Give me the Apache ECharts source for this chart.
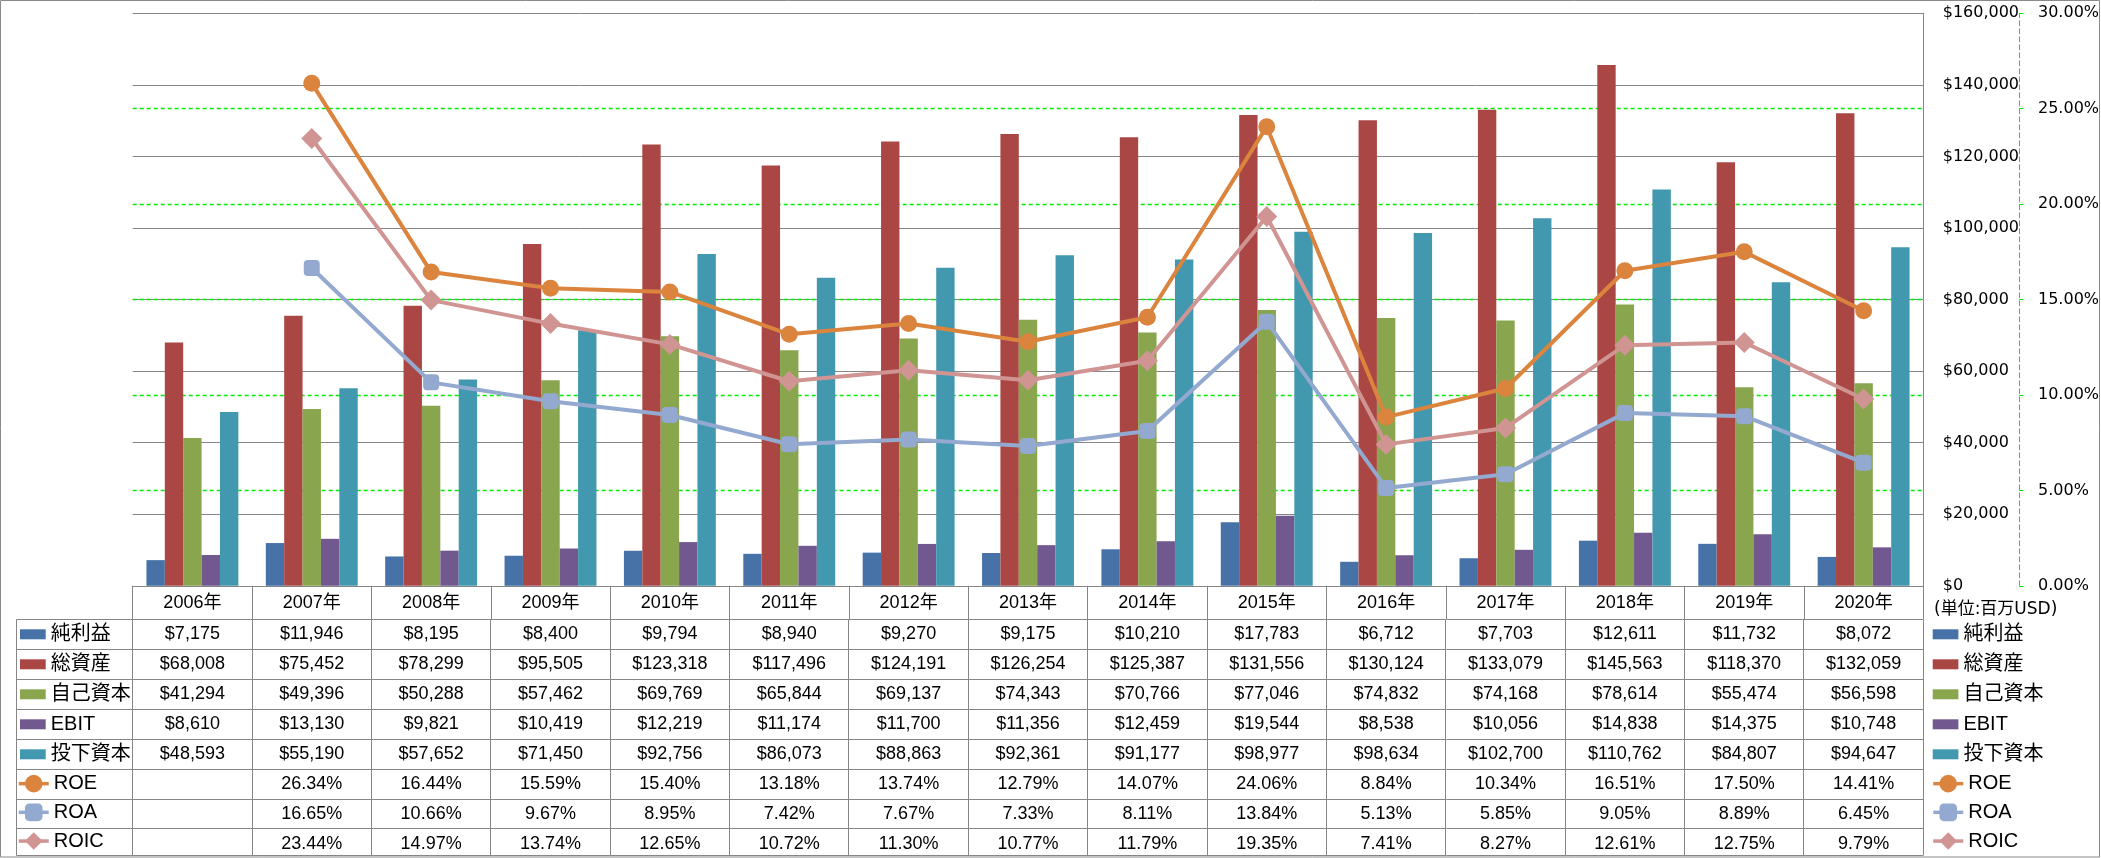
<!DOCTYPE html>
<html><head><meta charset="utf-8">
<script src="https://cdn.jsdelivr.net/npm/echarts@6/dist/echarts.min.js"></script>
<style>html,body{margin:0;padding:0;background:#fff;}#c{width:2101px;height:858px;}</style>
</head><body><div id="c"></div>
<script>
// ---- data ----
const years = ['2006年','2007年','2008年','2009年','2010年','2011年','2012年','2013年','2014年','2015年','2016年','2017年','2018年','2019年','2020年'];
const netIncome = [7175, 11946, 8195, 8400, 9794, 8940, 9270, 9175, 10210, 17783, 6712, 7703, 12611, 11732, 8072];
const totalAssets = [68008, 75452, 78299, 95505, 123318, 117496, 124191, 126254, 125387, 131556, 130124, 133079, 145563, 118370, 132059];
const equity = [41294, 49396, 50288, 57462, 69769, 65844, 69137, 74343, 70766, 77046, 74832, 74168, 78614, 55474, 56598];
const ebit = [8610, 13130, 9821, 10419, 12219, 11174, 11700, 11356, 12459, 19544, 8538, 10056, 14838, 14375, 10748];
const investedCapital = [48593, 55190, 57652, 71450, 92756, 86073, 88863, 92361, 91177, 98977, 98634, 102700, 110762, 84807, 94647];
const roe = [null, 26.34, 16.44, 15.59, 15.40, 13.18, 13.74, 12.79, 14.07, 24.06, 8.84, 10.34, 16.51, 17.50, 14.41];
const roa = [null, 16.65, 10.66, 9.67, 8.95, 7.42, 7.67, 7.33, 8.11, 13.84, 5.13, 5.85, 9.05, 8.89, 6.45];
const roic = [null, 23.44, 14.97, 13.74, 12.65, 10.72, 11.30, 10.77, 11.79, 19.35, 7.41, 8.27, 12.61, 12.75, 9.79];
const barNames = ['純利益','総資産','自己資本','EBIT','投下資本'];
const lineNames = ['ROE','ROA','ROIC'];
const leftTicks = [0, 20000, 40000, 60000, 80000, 100000, 120000, 140000, 160000];
const rightTicks = [0, 5, 10, 15, 20, 25, 30];
const unitText = '(単位:百万USD)';

// ---- styles ----
const barData = [netIncome, totalAssets, equity, ebit, investedCapital];
const lineData = [roe, roa, roic];
const barColors = ['#4672A8', '#AA4744', '#89A54E', '#71588F', '#4298AF'];
const lineColors = ['#DB843D', '#93A9CF', '#D09493'];
const lineSymbols = ['circle', 'roundRect', 'diamond'];
const lineSymbolSizes = [17, 16, 21];
const GRAY = '#868686';
const GREEN = '#00ee00';
const numFont = "'Liberation Sans', 'Noto Sans CJK JP', sans-serif";
const lblFont = "'Liberation Sans Narrow', 'Liberation Sans', 'Noto Sans CJK JP', sans-serif";
const axFont = "'DejaVu Sans', 'Noto Sans CJK JP', sans-serif";

const chart = echarts.init(document.getElementById('c'), null, {renderer: 'canvas'});

const series = [];
barNames.forEach((n, i) => series.push({
  name: n, type: 'bar', data: barData[i], barGap: '0%', barCategoryGap: '23%',
  itemStyle: {color: barColors[i]}, animation: false
}));
lineNames.forEach((n, i) => series.push({
  name: n, type: 'line', yAxisIndex: 1, data: lineData[i],
  symbol: lineSymbols[i], symbolSize: lineSymbolSizes[i], showAllSymbol: true,
  lineStyle: {width: 4, color: lineColors[i]}, itemStyle: {color: lineColors[i]},
  z: 5, animation: false
}));

function legendCfg(names, left, top, iw, ih, lh, isBar) {
  const o = {
    data: names.map(n => ({name: n})), orient: 'vertical', left: left, top: top,
    itemWidth: iw, itemHeight: ih, itemGap: 0, padding: 0, selectedMode: false,
    textStyle: {fontFamily: lblFont, fontSize: 20, lineHeight: lh, color: '#000'}
  };
  if (isBar) o.icon = 'rect';
  else o.lineStyle = {width: 3.5};
  return o;
}

chart.setOption({
  animation: false,
  backgroundColor: '#fff',
  grid: {left: 132.7, right: 177.7, top: 13.3, bottom: 272.2, show: false, outerBoundsMode: 'none'},
  legend: [
    legendCfg(barNames, 20, 619.3, 25.7, 10, 30, true),
    legendCfg(lineNames, 17, 769.3, 30, 22, 28.7, false),
    legendCfg(barNames, 1932.7, 619.3, 25.7, 10, 30, true),
    legendCfg(lineNames, 1931.5, 769.3, 30, 22, 28.7, false)
  ],
  xAxis: {
    type: 'category', data: years,
    axisLine: {show: true, lineStyle: {color: GRAY, width: 1}},
    axisTick: {show: true, length: 33.3, lineStyle: {color: GRAY, width: 1}},
    axisLabel: {interval: 0, margin: 8, fontFamily: numFont, fontSize: 18, color: '#000'},
    splitLine: {show: false}
  },
  yAxis: [
    {
      type: 'value', position: 'right', min: leftTicks[0], max: leftTicks[leftTicks.length - 1],
      interval: leftTicks[1] - leftTicks[0],
      axisLine: {show: true, lineStyle: {color: GRAY, width: 1}},
      axisTick: {show: false},
      axisLabel: {margin: 19.4, align: 'left', color: '#000', fontFamily: axFont, fontSize: 16,
        formatter: v => '$' + v.toLocaleString('en-US')},
      splitLine: {show: true, lineStyle: {color: GRAY, width: 1}}
    },
    {
      type: 'value', position: 'right', offset: 96, min: rightTicks[0], max: rightTicks[rightTicks.length - 1],
      interval: rightTicks[1] - rightTicks[0],
      axisLine: {show: true, lineStyle: {color: GREEN, width: 1, type: [5, 3]}},
      axisTick: {show: true, inside: false, length: 4, lineStyle: {color: GREEN, width: 1}},
      axisLabel: {margin: 18.7, align: 'left', color: '#000', fontFamily: axFont, fontSize: 16,
        formatter: v => v.toFixed(2) + '%'},
      splitLine: {show: true, showMinLine: false, showMaxLine: false,
        lineStyle: {color: GREEN, width: 1.3, type: [4, 3]}}
    }
  ],
  series: series
});

// ---- data table built from the category axis scale ----
const centers = years.map((y, i) => chart.convertToPixel({xAxisIndex: 0}, i));
const band = centers[1] - centers[0];
const bounds = centers.map(c => c - band / 2).concat([centers[centers.length - 1] + band / 2]);
const tableTop = 619.3, rowH = 29.95, tableBottom = 855.5, tableLeft = 16.5;
const rows = [];
barData.forEach(arr => rows.push(arr.map(v => '$' + v.toLocaleString('en-US'))));
lineData.forEach(arr => rows.push(arr.map(v => v == null ? '' : v.toFixed(2) + '%')));

const crisp = v => Math.round(v - 0.5) + 0.5;
const g = [];
g.push({type: 'rect', shape: {x: 0.5, y: 0.5, width: 2099, height: 856.5},
  style: {fill: 'none', stroke: '#8a8a8a', lineWidth: 1}, silent: true, z: 0});
const right = bounds[bounds.length - 1];
for (let i = 0; i <= rows.length; i++) {
  const y = i < rows.length ? crisp(tableTop + i * rowH) : crisp(tableBottom);
  g.push({type: 'line', shape: {x1: tableLeft, y1: y, x2: right, y2: y},
    style: {stroke: GRAY, lineWidth: 1}, silent: true});
}
g.push({type: 'line', shape: {x1: tableLeft, y1: crisp(tableTop), x2: tableLeft, y2: crisp(tableBottom)},
  style: {stroke: GRAY, lineWidth: 1}, silent: true});
bounds.forEach(b => {
  const x = crisp(b);
  g.push({type: 'line', shape: {x1: x, y1: crisp(tableTop), x2: x, y2: crisp(tableBottom)},
    style: {stroke: GRAY, lineWidth: 1}, silent: true});
});
rows.forEach((r, ri) => {
  const cy = tableTop + ri * rowH + 15;
  r.forEach((t, ci) => {
    if (!t) return;
    g.push({type: 'text', x: centers[ci], y: cy, silent: true,
      style: {text: t, fontFamily: numFont, fontSize: 18, fill: '#000',
        align: 'center', verticalAlign: 'middle', textAlign: 'center', textVerticalAlign: 'middle'}});
  });
});
g.push({type: 'text', x: 1934, y: 610, silent: true,
  style: {text: unitText, fontFamily: axFont, fontSize: 17, fill: '#000',
    align: 'left', verticalAlign: 'middle', textAlign: 'left', textVerticalAlign: 'middle'}});
chart.setOption({graphic: {elements: g}});
</script></body></html>
